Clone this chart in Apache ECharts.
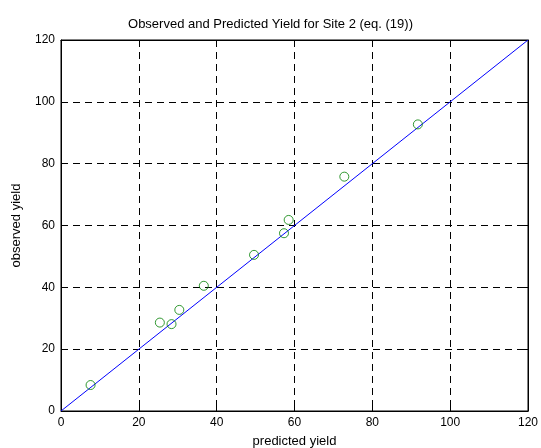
<!DOCTYPE html>
<html>
<head>
<meta charset="utf-8">
<script src="https://cdn.jsdelivr.net/npm/echarts@6/dist/echarts.min.js"></script>
<style>
  html, body { margin: 0; padding: 0; background: #fff; }
  #chart { width: 541px; height: 448px; }
</style>
</head>
<body>
<div id="chart"></div>
<script>
// predicted vs observed yield
const predicted = [7.6, 25.4, 28.4, 30.4, 36.7, 49.6, 57.3, 58.5, 72.8, 91.7];
const observed = [8.4, 28.6, 28.1, 32.7, 40.5, 50.5, 57.5, 61.8, 75.8, 92.7];
// 1:1 line
const lineX = [0, 120];
const lineY = [0, 120];

const font = "Liberation Sans, Arial, sans-serif";

const chart = echarts.init(document.getElementById("chart"));

const baseAxis = {
  type: "value",
  min: 0,
  max: 120,
  interval: 20,
  axisLine: { show: true, onZero: false, lineStyle: { color: "#000", width: 1 } },
  axisTick: { show: true, inside: true, length: 5, lineStyle: { color: "#000" } },
  axisLabel: { color: "#000", fontSize: 12, fontFamily: font, margin: 6 },
  splitLine: { show: true, lineStyle: { color: "#000", type: [7, 5], width: 1 } },
  nameTextStyle: { color: "#000", fontSize: 13, fontFamily: font },
};

const option = {
  backgroundColor: "#fff",
  animation: false,
  title: {
    text: "Observed and Predicted Yield for Site 2 (eq. (19))",
    left: "center",
    top: 13,
    textStyle: { color: "#000", fontSize: 13, fontWeight: "normal", fontFamily: font },
  },
  grid: {
    left: 61, right: 13, top: 40, bottom: 37,
    outerBoundsMode: "none",
    show: true, borderColor: "#000", borderWidth: 1,
  },
  xAxis: [
    Object.assign({}, baseAxis, {
      position: "bottom",
      name: "predicted yield",
      nameLocation: "middle",
      nameGap: 24,
    }),
    Object.assign({}, baseAxis, {
      position: "top",
      axisLabel: { show: false },
      splitLine: { show: false },
    }),
  ],
  yAxis: [
    Object.assign({}, baseAxis, {
      position: "left",
      name: "observed yield",
      nameLocation: "middle",
      nameGap: 38,
    }),
    Object.assign({}, baseAxis, {
      position: "right",
      axisLabel: { show: false },
      splitLine: { show: false },
    }),
  ],
  series: [
    {
      type: "line",
      data: lineX.map((x, i) => [x, lineY[i]]),
      symbol: "none",
      lineStyle: { color: "#0000ff", width: 1 },
      z: 2,
    },
    {
      type: "scatter",
      data: predicted.map((x, i) => [x, observed[i]]),
      symbol: "circle",
      symbolSize: 9,
      itemStyle: { color: "rgba(0,0,0,0)", borderColor: "#008000", borderWidth: 1 },
      z: 3,
    },
  ],
};

chart.setOption(option);
</script>
</body>
</html>
